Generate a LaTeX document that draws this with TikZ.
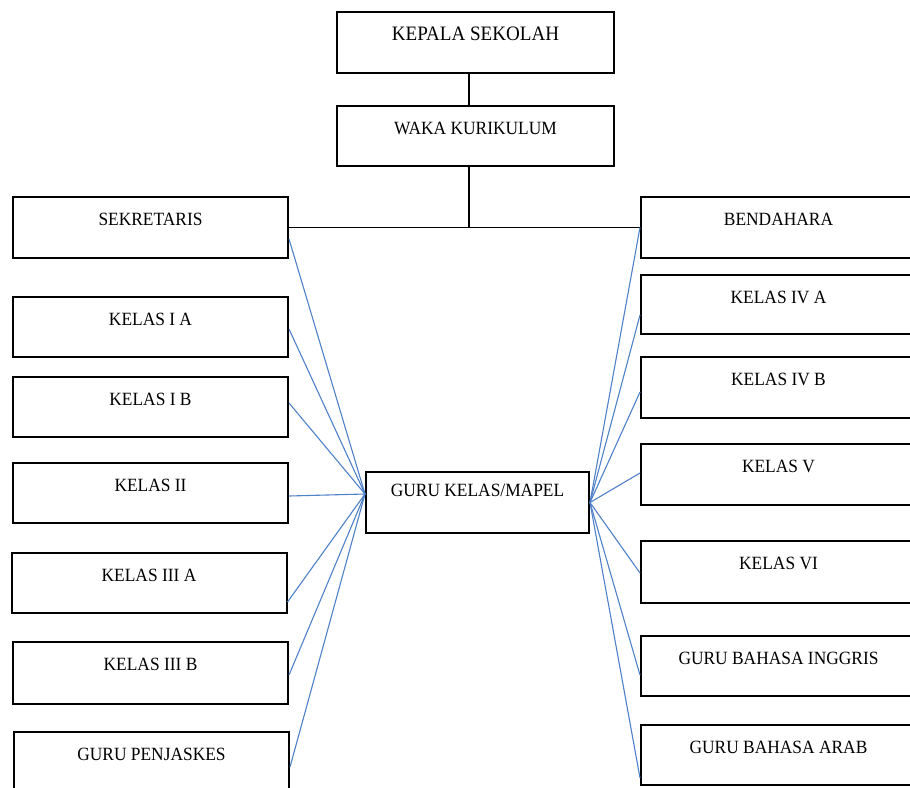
\documentclass[tikz,border=0pt]{standalone}
\usepackage{fontspec}
\setmainfont{Liberation Serif}[FakeStretch=0.93]
\definecolor{linkblue}{HTML}{4F81C8}
\begin{document}
\begin{tikzpicture}[x=1pt,y=-1pt,
  orgbox/.style={draw=black, line width=2pt, rectangle, inner sep=0pt,
    minimum width=275pt, minimum height=61pt, text height=28pt, text depth=33pt,
    font=\fontsize{18.7}{20}\selectfont},
  treeline/.style={line width=2pt, black},
  hline/.style={line width=1.2pt, black},
  bluelink/.style={draw=linkblue, line width=1.1pt}]
\useasboundingbox (0,0) rectangle (910,787);
\begin{scope}
\clip (0,0) rectangle (910,787);
% top
\node[orgbox, minimum width=277pt, font=\fontsize{20.5}{22}\selectfont] (kepala) at (475.5,42.5) {KEPALA SEKOLAH};
\node[orgbox, minimum width=277pt, minimum height=60pt, text depth=32pt] (waka) at (475.5,136) {WAKA KURIKULUM};
% left column
\node[orgbox] (sek) at (150.5,227.5) {SEKRETARIS};
\node[orgbox, minimum height=60pt, text depth=32pt] (ia) at (150.5,327) {KELAS I A};
\node[orgbox, minimum height=60pt, text depth=32pt] (ib) at (150.5,407) {KELAS I B};
\node[orgbox, minimum height=60pt, text depth=32pt] (ii) at (150.5,493) {KELAS II};
\node[orgbox, minimum height=60pt, text depth=32pt] (iiia) at (149,583) {KELAS III A};
\node[orgbox, minimum height=62pt, text depth=34pt] (iiib) at (150.5,673) {KELAS III B};
\node[orgbox, minimum height=60pt, text depth=32pt] (penj) at (151.5,762) {GURU PENJASKES};
% right column
\node[orgbox] (bend) at (778.5,227.5) {BENDAHARA};
\node[orgbox, minimum height=59pt, text depth=31pt] (iva) at (778.5,304.5) {KELAS IV A};
\node[orgbox] (ivb) at (778.5,387.5) {KELAS IV B};
\node[orgbox] (v) at (778.5,474.5) {KELAS V};
\node[orgbox, minimum height=62pt, text depth=34pt] (vi) at (778.5,572) {KELAS VI};
\node[orgbox, minimum height=60pt, text depth=32pt] (ingg) at (778.5,666) {GURU BAHASA INGGRIS};
\node[orgbox, minimum height=60pt, text depth=32pt] (arab) at (778.5,755) {GURU BAHASA ARAB};
% centre
\node[orgbox, minimum width=223pt, text height=24pt, text depth=37pt] (guru) at (477.5,502.5) {GURU KELAS/MAPEL};
% tree lines
\coordinate (ktop) at ([xshift=-6.5pt]kepala.south);
\coordinate (wtop) at ([xshift=-6.5pt]waka.north);
\coordinate (wbot) at ([xshift=-6.5pt]waka.south);
\coordinate (junc) at (wbot |- sek.east);
\draw[treeline] (ktop) -- (wtop);
\draw[treeline] (wbot) -- (junc);
\draw[hline] (sek.east) -- (bend.west);
% blue links left
\coordinate (gl) at ([yshift=8.5pt]guru.west);
\coordinate (gr) at (guru.east);
\draw[bluelink] ([yshift=-11.5pt]sek.east) -- (gl);
\draw[bluelink] ([yshift=-2pt]ia.east) -- (gl);
\draw[bluelink] ([yshift=4pt]ib.east) -- (gl);
\draw[bluelink] ([yshift=-3pt]ii.east) -- (gl);
\draw[bluelink] ([yshift=-19pt]iiia.east) -- (gl);
\draw[bluelink] ([yshift=-2pt]iiib.east) -- (gl);
\draw[bluelink] ([yshift=-5pt]penj.east) -- (gl);
% blue links right
\draw[bluelink] (bend.west) -- (gr);
\draw[bluelink] ([yshift=-10.5pt]iva.west) -- (gr);
\draw[bluelink] ([yshift=-4.5pt]ivb.west) -- (gr);
\draw[bluelink] ([yshift=1.5pt]v.west) -- (gr);
\draw[bluelink] ([yshift=-1pt]vi.west) -- (gr);
\draw[bluelink] ([yshift=-9pt]ingg.west) -- (gr);
\draw[bluelink] ([yshift=-23pt]arab.west) -- (gr);
\end{scope}
\end{tikzpicture}
\end{document}
